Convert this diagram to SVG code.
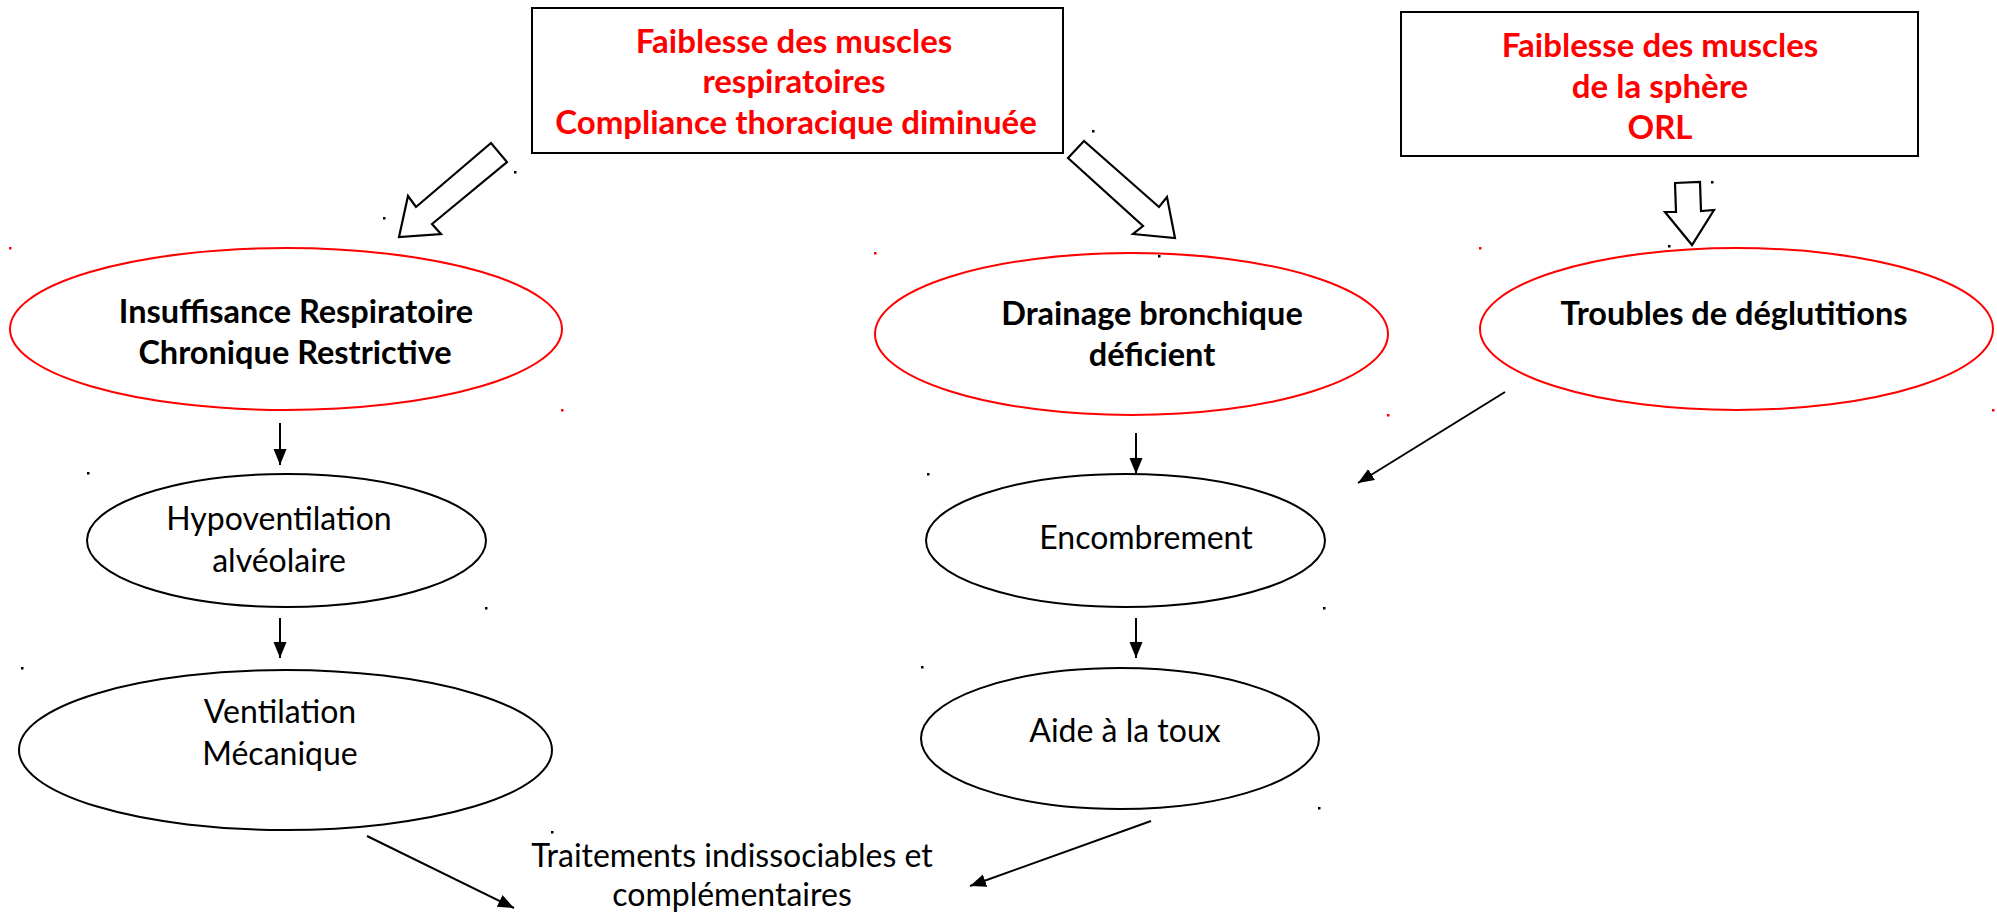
<svg xmlns="http://www.w3.org/2000/svg" width="1997" height="915" viewBox="0 0 1997 915">
<style>
  .bg { fill: #ffffff; }
  .box { fill: #ffffff; stroke: #000000; stroke-width: 2; }
  .redell { fill: #ffffff; stroke: #ff0000; stroke-width: 2; }
  .blkell { fill: #ffffff; stroke: #000000; stroke-width: 2; }
  .block { fill: #ffffff; stroke: #000000; stroke-width: 2.2; stroke-linejoin: miter; }
  .conn { fill: none; stroke: #000000; stroke-width: 2; }
  .t { font-family: Lato, "Open Sans", sans-serif; font-size: 32px; text-anchor: middle; }
  .tb { font-weight: bold; fill: #000000; font-size: 32.5px; }
  .tr { font-weight: bold; fill: #ff0000; font-size: 33px; }
  .tn { font-weight: normal; fill: #000000; }
  .dk { fill: #000000; }
  .dr { fill: #ff0000; }
</style>
<defs>
  <marker id="ah" markerUnits="userSpaceOnUse" markerWidth="18" markerHeight="14" refX="16" refY="6.5" orient="auto">
    <path d="M0,0 L16,6.5 L0,13 z" fill="#000000"/>
  </marker>
</defs>
<rect class="bg" x="0" y="0" width="1997" height="915"/>

<g id="box-muscles-resp">
  <rect class="box" x="532" y="8" width="531" height="145"/>
  <text class="t tr" x="794" y="53">Faiblesse des muscles</text>
  <text class="t tr" x="794" y="93">respiratoires</text>
  <text class="t tr" x="796" y="134">Compliance thoracique diminuée</text>
</g>

<g id="box-muscles-orl">
  <rect class="box" x="1401" y="12" width="517" height="144"/>
  <text class="t tr" x="1660" y="57">Faiblesse des muscles</text>
  <text class="t tr" x="1660" y="98">de la sphère</text>
  <text class="t tr" x="1660" y="139">ORL</text>
</g>

<g id="ell-ircr">
  <ellipse class="redell" cx="286" cy="329" rx="276" ry="81"/>
  <text class="t tb" x="296" y="323">Insuffisance Respiratoire</text>
  <text class="t tb" x="295" y="364">Chronique Restrictive</text>
</g>

<g id="ell-drainage">
  <ellipse class="redell" cx="1131.5" cy="334" rx="256.5" ry="81"/>
  <text class="t tb" x="1152" y="325">Drainage bronchique</text>
  <text class="t tb" x="1152" y="366">déficient</text>
</g>

<g id="ell-deglutition">
  <ellipse class="redell" cx="1736.5" cy="329" rx="256.5" ry="81"/>
  <text class="t tb" x="1734" y="325">Troubles de déglutitions</text>
</g>

<g id="ell-hypo">
  <ellipse class="blkell" cx="286.5" cy="540.5" rx="199.5" ry="66.5"/>
  <text class="t tn" x="279" y="530">Hypoventilation</text>
  <text class="t tn" x="279" y="572">alvéolaire</text>
</g>

<g id="ell-ventilation">
  <ellipse class="blkell" cx="285.5" cy="750" rx="266.5" ry="80"/>
  <text class="t tn" x="280" y="723">Ventilation</text>
  <text class="t tn" x="280" y="765">Mécanique</text>
</g>

<g id="ell-encombrement">
  <ellipse class="blkell" cx="1125.5" cy="540.5" rx="199.5" ry="66.5"/>
  <text class="t tn" x="1146" y="549">Encombrement</text>
</g>

<g id="ell-toux">
  <ellipse class="blkell" cx="1120" cy="738.5" rx="199" ry="70.5"/>
  <text class="t tn" x="1125" y="742">Aide à la toux</text>
</g>

<g id="label-traitements">
  <text class="t tn" x="732" y="867">Traitements indissociables et</text>
  <text class="t tn" x="732" y="906">complémentaires</text>
</g>

<g id="connectors">
  <polygon class="block" points="399,237 408,196 416,207 491,143 507,162 432,224 441,234"/>
  <polygon class="block" points="1068,158 1084,141 1159,207 1167,197 1175,238 1133,234 1143,226"/>
  <polygon class="block" points="1675,183 1700,182 1701,211 1714,210 1692,245 1665,212 1676,212"/>
  <line class="conn" x1="280" y1="423" x2="280" y2="465" marker-end="url(#ah)"/>
  <line class="conn" x1="280" y1="618" x2="280" y2="658" marker-end="url(#ah)"/>
  <line class="conn" x1="1136" y1="433" x2="1136" y2="474" marker-end="url(#ah)"/>
  <line class="conn" x1="1136" y1="618" x2="1136" y2="658" marker-end="url(#ah)"/>
  <line class="conn" x1="1505" y1="392" x2="1358" y2="483" marker-end="url(#ah)"/>
  <line class="conn" x1="367" y1="836" x2="514" y2="908" marker-end="url(#ah)"/>
  <line class="conn" x1="1151" y1="821" x2="970" y2="886" marker-end="url(#ah)"/>
</g>

<g id="dots">
  <rect class="dk" x="514" y="171" width="2.5" height="2.5"/>
  <rect class="dk" x="383" y="217" width="2.5" height="2.5"/>
  <rect class="dk" x="1092" y="130" width="2.5" height="2.5"/>
  <rect class="dk" x="1158" y="255" width="2.5" height="2.5"/>
  <rect class="dk" x="1711" y="181" width="2.5" height="2.5"/>
  <rect class="dk" x="1668" y="245" width="2.5" height="2.5"/>
  <rect class="dk" x="87" y="472" width="2.5" height="2.5"/>
  <rect class="dk" x="485" y="607" width="2.5" height="2.5"/>
  <rect class="dk" x="21" y="667" width="2.5" height="2.5"/>
  <rect class="dk" x="551" y="831" width="2.5" height="2.5"/>
  <rect class="dk" x="927" y="473" width="2.5" height="2.5"/>
  <rect class="dk" x="1323" y="607" width="2.5" height="2.5"/>
  <rect class="dk" x="921" y="666" width="2.5" height="2.5"/>
  <rect class="dk" x="1318" y="807" width="2.5" height="2.5"/>
  <rect class="dr" x="9" y="247" width="2.5" height="2.5"/>
  <rect class="dr" x="561" y="409" width="2.5" height="2.5"/>
  <rect class="dr" x="874" y="252" width="2.5" height="2.5"/>
  <rect class="dr" x="1387" y="414" width="2.5" height="2.5"/>
  <rect class="dr" x="1479" y="247" width="2.5" height="2.5"/>
  <rect class="dr" x="1992" y="409" width="2.5" height="2.5"/>
</g>
</svg>
